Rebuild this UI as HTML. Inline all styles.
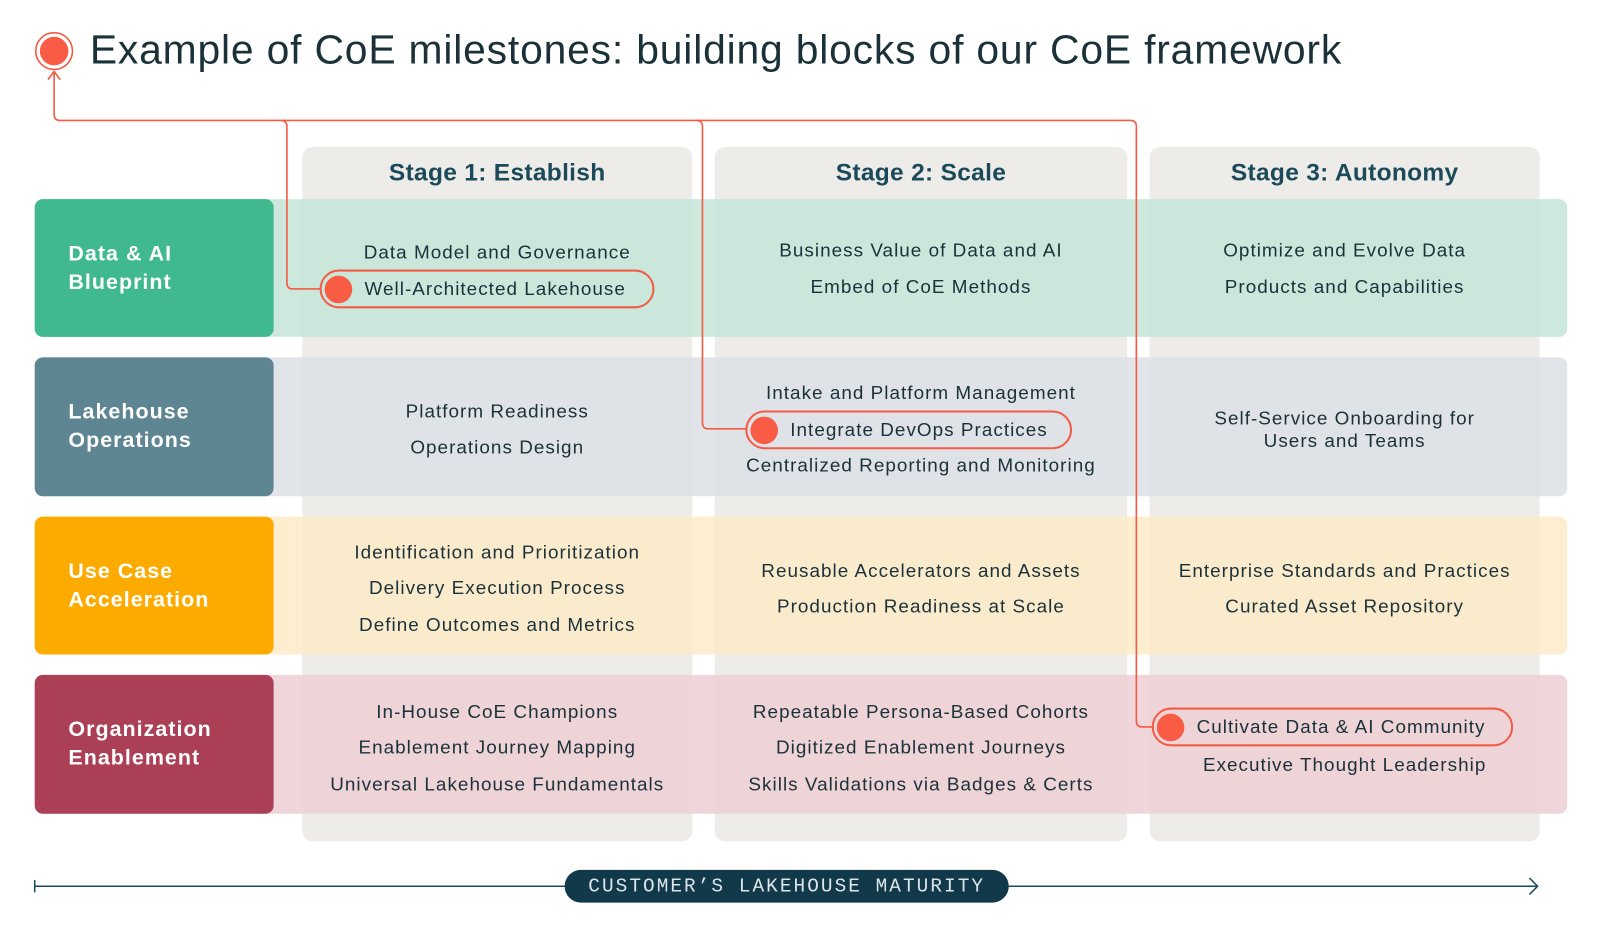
<!DOCTYPE html>
<html><head><meta charset="utf-8"><style>
body{margin:0;width:1600px;height:928px;background:#fff;position:relative;overflow:hidden;font-family:"Liberation Sans",sans-serif;color:#1B3139}
#w{position:absolute;left:0;top:0;width:1600px;height:928px;transform:scale(1.021);transform-origin:0 0}
.a{position:absolute}
.col{background:#EEECE8;border-radius:10px;top:144px;height:680px}
.band{left:34px;width:1501px;border-radius:8px;opacity:.85}
.lab{left:34px;width:234px;border-radius:8px;color:#fff;font-weight:bold;font-size:21px;line-height:28px;display:flex;align-items:center;padding-left:33px;box-sizing:border-box;letter-spacing:1px}
.cell{display:flex;flex-direction:column;align-items:center;justify-content:center;font-size:18.5px;text-align:center;letter-spacing:1px}
.cell div{height:35.5px;line-height:35.5px}
.st{font-size:24px;font-weight:bold;color:#1B4A5A;text-align:center;top:156px;letter-spacing:.3px}
.pill{border:2px solid #F25C45;border-radius:20px;box-sizing:border-box;height:38px;display:flex;align-items:center;font-size:18.5px;letter-spacing:1px}
.pill i{display:inline-block;width:27px;height:27px;border-radius:50%;background:#F95C45;margin:0 12px 0 3px}
</style></head><body><div id="w">
<div class="a col" style="left:296px;width:382px"></div>
<div class="a col" style="left:700px;width:404px"></div>
<div class="a col" style="left:1126px;width:382px"></div>
<div class="a st" style="left:296px;width:382px">Stage 1: Establish</div>
<div class="a st" style="left:700px;width:404px">Stage 2: Scale</div>
<div class="a st" style="left:1126px;width:382px">Stage 3: Autonomy</div>

<div class="a band" style="top:195px;height:135px;background:#C4E5D8"></div>
<div class="a band" style="top:350px;height:136px;background:#DCE0E5"></div>
<div class="a band" style="top:506px;height:135px;background:#FDEBC8"></div>
<div class="a band" style="top:661px;height:136px;background:#EDCFD4"></div>

<div class="a lab" style="top:195px;height:135px;background:#40B98F">Data &amp; AI<br>Blueprint</div>
<div class="a lab" style="top:350px;height:136px;background:#5E8592">Lakehouse<br>Operations</div>
<div class="a lab" style="top:506px;height:135px;background:#FDAB00">Use Case<br>Acceleration</div>
<div class="a lab" style="top:661px;height:136px;background:#AB3F56">Organization<br>Enablement</div>

<svg class="a" style="left:0;top:0" width="1600" height="928">
<g fill="none" stroke="#F25C45" stroke-width="1.6">
<circle cx="53" cy="50" r="18"/>
<path d="M53 70 V112 Q53 118 59 118 H1107 Q1113 118 1113 124 V706 Q1113 712 1119 712 H1130"/>
<path d="M275 118 Q281 118 281 124 V277 Q281 283 287 283 H314"/>
<path d="M682 118 Q688 118 688 124 V414 Q688 420 694 420 H731"/>
<path d="M47 78 L53 70 L59 78"/>
</g>
<circle cx="53" cy="50" r="14" fill="#F95C45"/>
<line x1="34" y1="868" x2="1506" y2="868" stroke="#1B4A5A" stroke-width="1.5"/>
<line x1="34" y1="862" x2="34" y2="874" stroke="#1B4A5A" stroke-width="1.5"/>
<path d="M1498 860 L1506 868 L1498 876" fill="none" stroke="#1B4A5A" stroke-width="1.5"/>
</svg>
<div class="a" style="left:88px;top:24px;font-size:40px;line-height:50px;color:#1B3139;letter-spacing:0.8px;white-space:nowrap">Example of CoE milestones: building blocks of our CoE framework</div>

<div class="a cell" style="left:296px;width:382px;top:229px;height:36px"><div>Data Model and Governance</div></div>
<div class="a pill" style="left:313px;top:264px;width:328px"><i></i>Well-Architected Lakehouse</div>
<div class="a cell" style="left:700px;width:404px;top:195px;height:135px"><div>Business Value of Data and AI</div><div>Embed of CoE Methods</div></div>
<div class="a cell" style="left:1126px;width:382px;top:195px;height:135px"><div>Optimize and Evolve Data</div><div>Products and Capabilities</div></div>

<div class="a cell" style="left:296px;width:382px;top:350px;height:140px"><div>Platform Readiness</div><div>Operations Design</div></div>
<div class="a cell" style="left:700px;width:404px;top:367px;height:36px"><div>Intake and Platform Management</div></div>
<div class="a pill" style="left:730px;top:402px;width:320px"><i></i>Integrate DevOps Practices</div>
<div class="a cell" style="left:700px;width:404px;top:438px;height:36px"><div>Centralized Reporting and Monitoring</div></div>
<div class="a cell" style="left:1126px;width:382px;top:350px;height:142px;line-height:22px"><span>Self-Service Onboarding for<br>Users and Teams</span></div>

<div class="a cell" style="left:296px;width:382px;top:506px;height:140px"><div>Identification and Prioritization</div><div>Delivery Execution Process</div><div>Define Outcomes and Metrics</div></div>
<div class="a cell" style="left:700px;width:404px;top:506px;height:140px"><div>Reusable Accelerators and Assets</div><div>Production Readiness at Scale</div></div>
<div class="a cell" style="left:1126px;width:382px;top:506px;height:140px"><div>Enterprise Standards and Practices</div><div>Curated Asset Repository</div></div>

<div class="a cell" style="left:296px;width:382px;top:661px;height:142px"><div>In-House CoE Champions</div><div>Enablement Journey Mapping</div><div>Universal Lakehouse Fundamentals</div></div>
<div class="a cell" style="left:700px;width:404px;top:661px;height:142px"><div>Repeatable Persona-Based Cohorts</div><div>Digitized Enablement Journeys</div><div>Skills Validations via Badges &amp; Certs</div></div>
<div class="a pill" style="left:1128px;top:693px;width:354px"><i></i>Cultivate Data &amp; AI Community</div>
<div class="a cell" style="left:1126px;width:382px;top:731px;height:36px"><div>Executive Thought Leadership</div></div>

<div class="a" style="left:553px;top:852px;width:435px;height:32px;border-radius:16px;background:#12394A;color:#DCE6EA;font-family:'Liberation Mono',monospace;font-size:19px;line-height:32px;text-align:center;letter-spacing:2px">CUSTOMER’S LAKEHOUSE MATURITY</div>
</div></body></html>
